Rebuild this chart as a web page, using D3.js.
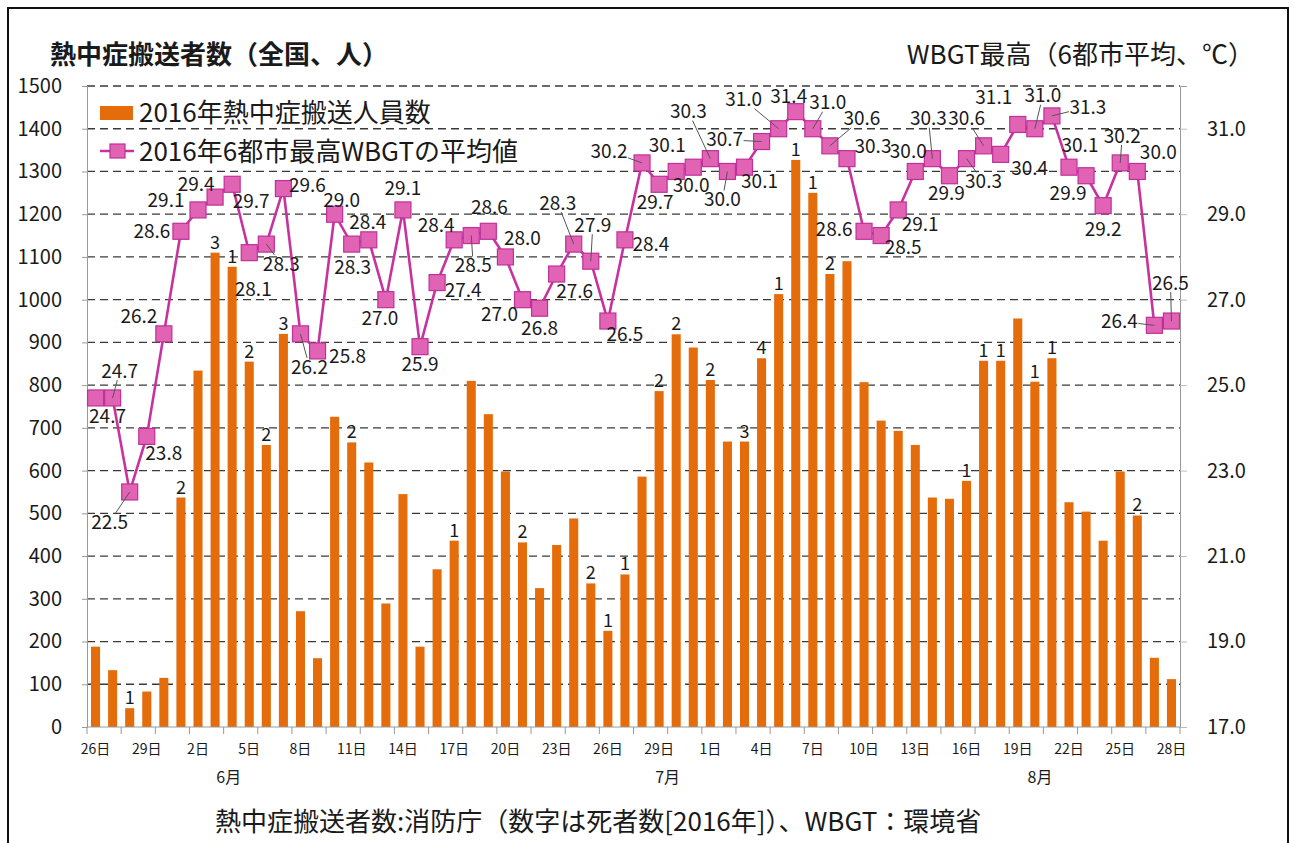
<!DOCTYPE html>
<html>
<head>
<meta charset="utf-8">
<script src="https://cdn.jsdelivr.net/npm/d3@7"></script>
<style>
body { margin: 0; background: #fff; }
text { font-family: "Noto Sans CJK JP", "Noto Sans", sans-serif; fill: #1a1a1a; }
</style>
</head>
<body>
<svg id="chart" width="1292" height="843"></svg>
<script>
// day of month for each category (6/26 .. 8/28)
const dayNums = [26,27,28,29,30,1,2,3,4,5,6,7,8,9,10,11,12,13,14,15,16,17,18,19,20,21,22,23,24,25,26,27,28,29,30,31,
  1,2,3,4,5,6,7,8,9,10,11,12,13,14,15,16,17,18,19,20,21,22,23,24,25,26,27,28];
const monthLabels = ["6月", "7月", "8月"];
const monthAt = [7.8, 33.5, 55.3]; // category position of the month label

// 熱中症搬送人員数 (bars)
const transported = [188,133,44,83,115,537,834,1110,1077,855,
  660,920,271,161,726,666,619,289,545,188,
  369,436,810,732,598,432,325,426,488,336,
  225,357,586,786,919,888,812,668,668,863,
  1013,1327,1250,1060,1090,807,717,693,660,537,
  534,576,857,857,956,808,863,526,504,436,
  598,495,162,112];

// 死者数 shown above bars
const deaths = [null,null,1,null,null,2,null,3,1,2,
  2,3,null,null,null,2,null,null,null,null,
  null,1,null,null,null,2,null,null,null,2,
  1,1,null,2,2,null,2,null,3,4,
  1,1,1,2,null,null,null,null,null,null,
  null,1,1,1,null,1,1,null,null,null,
  null,2,null,null];

// 6都市最高WBGTの平均値 (line)
const wbgt = [24.7,24.7,22.5,23.8,26.2,28.6,29.1,29.4,29.7,28.1,
  28.3,29.6,26.2,25.8,29.0,28.3,28.4,27.0,29.1,25.9,
  27.4,28.4,28.5,28.6,28.0,27.0,26.8,27.6,28.3,27.9,
  26.5,28.4,30.2,29.7,30.0,30.1,30.3,30.0,30.1,30.7,
  31.0,31.4,31.0,30.6,30.3,28.6,28.5,29.1,30.0,30.3,
  29.9,30.3,30.6,30.4,31.1,31.0,31.3,30.1,29.9,29.2,
  30.2,30.0,26.4,26.5];

const leftTicks = d3.range(0, 1501, 100);
const rightTicks = [17, 19, 21, 23, 25, 27, 29, 31];

// label offset from marker [dx, dy, leader line]
const labelPos = [[12,18,0],[7,-27,1],[-20,30,1],[17,17,0],[-25,-18,0],[-29,0,0],[-32,-10,0],[-19,-13,0],[19,17,0],[4,37,0],
  [15,20,1],[24,-3,0],[9,33,1],[30,5,0],[7,-14,0],[1,23,0],[-1,-17,0],[-6,19,0],[0,-22,0],[0,18,0],
  [26,8,0],[-18,-14,0],[2,30,1],[1,-24,0],[17,-19,0],[-23,15,0],[0,20,0],[18,17,0],[-16,-41,1],[2,-36,1],
  [17,13,0],[26,5,0],[-33,-12,1],[-4,18,0],[15,14,0],[-26,-22,0],[-22,-47,1],[-5,28,1],[15,14,0],[-37,-2,1],
  [-35,-29,1],[-7,-15,0],[15,-26,1],[32,-27,1],[26,-12,0],[-30,-2,0],[22,12,0],[22,14,0],[-7,-20,0],[-4,-40,1],
  [-3,18,0],[17,23,1],[-17,-27,1],[29,14,0],[-24,-27,0],[8,-33,1],[36,-9,1],[11,-22,0],[-18,18,0],[0,24,0],
  [2,-27,1],[21,-19,0],[-35,-4,1],[-1,-38,1]];

const barColor = "#E46C0A";
const lineColor = "#C8329E";
const markFill = "#E063B4";

const svg = d3.select("#chart");
const L = 87, R = 1180, T = 86, B = 727;

// frame
svg.append("rect").attr("x", 8).attr("y", 8).attr("width", 1280).attr("height", 850)
  .attr("fill", "none").attr("stroke", "#111").attr("stroke-width", 2);

const x = d3.scaleBand().domain(d3.range(dayNums.length)).range([L, R]).paddingInner(0.47).paddingOuter(0.235);
const step = (R - L) / dayNums.length;
const cx = i => L + step * (i + 0.5);
const y = d3.scaleLinear().domain([0, 1500]).range([B, T]);
const y2 = d3.scaleLinear().domain([17, 32]).range([B, T]);

// gridlines
svg.append("g").selectAll("line").data(leftTicks.filter(d => d > 0)).join("line")
  .attr("x1", L).attr("x2", R).attr("y1", d => y(d)).attr("y2", d => y(d))
  .attr("stroke", "#3a3a3a").attr("stroke-width", 1.3).attr("stroke-dasharray", "8,5");

// left axis
const gl = svg.append("g").attr("transform", `translate(${L},0)`)
  .call(d3.axisLeft(y).tickValues(leftTicks).tickFormat(d3.format("d")).tickSize(5).tickPadding(20));
gl.select(".domain").attr("stroke", "#999");
gl.selectAll(".tick line").attr("stroke", "#999");
gl.selectAll("text").style("font-size", "20px").attr("fill", "#1a1a1a");

// right axis
const gr = svg.append("g").attr("transform", `translate(${R},0)`)
  .call(d3.axisRight(y2).tickValues(rightTicks).tickFormat(d3.format(".1f")).tickSize(7).tickPadding(20));
gr.select(".domain").attr("stroke", "#999");
gr.selectAll(".tick line").attr("stroke", "#bbb");
gr.selectAll("text").style("font-size", "20px").attr("fill", "#1a1a1a");

// bars
svg.append("g").selectAll("rect").data(transported).join("rect")
  .attr("x", (d, i) => x(i)).attr("width", x.bandwidth())
  .attr("y", d => y(d)).attr("height", d => B - y(d))
  .attr("fill", barColor);

// deaths labels
svg.append("g").selectAll("text").data(deaths.map((d, i) => ({d, i})).filter(o => o.d !== null)).join("text")
  .attr("x", o => cx(o.i)).attr("y", o => y(transported[o.i]) - 4)
  .attr("text-anchor", "middle").style("font-size", "18px").text(o => o.d);

// x axis
svg.append("line").attr("x1", L).attr("x2", R).attr("y1", B).attr("y2", B).attr("stroke", "#999");
svg.append("g").selectAll("line").data(d3.range(0, dayNums.length + 1, 2)).join("line")
  .attr("x1", d => L + step * d).attr("x2", d => L + step * d).attr("y1", B).attr("y2", B + 7)
  .attr("stroke", "#999");
svg.append("g").selectAll("text").data(d3.range(0, dayNums.length, 3)).join("text")
  .attr("x", cx).attr("y", 754).attr("text-anchor", "middle")
  .style("font-size", "14px").text(i => dayNums[i] + "日");
svg.append("g").selectAll("text").data(monthLabels).join("text")
  .attr("x", (d, i) => cx(monthAt[i])).attr("y", 783).attr("text-anchor", "middle")
  .style("font-size", "16px").text(d => d);

// line
const line = d3.line().x((d, i) => cx(i)).y(d => y2(d));
svg.append("path").datum(wbgt).attr("d", line)
  .attr("fill", "none").attr("stroke", lineColor).attr("stroke-width", 2.6);
svg.append("g").selectAll("rect").data(wbgt).join("rect")
  .attr("x", (d, i) => cx(i) - 8).attr("y", d => y2(d) - 8)
  .attr("width", 16).attr("height", 16)
  .attr("fill", markFill).attr("stroke", "#C0309A").attr("stroke-width", 1.2);

// leader lines + value labels
const lg = svg.append("g");
wbgt.forEach((v, i) => {
  const [dx, dy, lead] = labelPos[i];
  const mx = cx(i), my = y2(v);
  const lx = mx + dx, ly = my + dy;
  if (lead) {
    const hw = 19, hh = 9;
    const s = Math.min(hw / Math.max(Math.abs(dx), 0.01), hh / Math.max(Math.abs(dy), 0.01));
    lg.append("line").attr("x1", lx - dx * s).attr("y1", ly - dy * s).attr("x2", mx).attr("y2", my)
      .attr("stroke", "#555").attr("stroke-width", 1);
  }
  lg.append("text").attr("x", lx).attr("y", ly).attr("dy", "0.35em")
    .attr("text-anchor", "middle").style("font-size", "19px").text(v.toFixed(1));
});

// titles
svg.append("text").attr("x", 50).attr("y", 64).style("font-size", "26px").style("font-weight", "bold")
  .text("熱中症搬送者数（全国、人）");
svg.append("text").attr("x", 1254).attr("y", 64).attr("text-anchor", "end").style("font-size", "26px")
  .text("WBGT最高（6都市平均、℃）");
svg.append("text").attr("x", 215).attr("y", 831).style("font-size", "26px")
  .text("熱中症搬送者数:消防庁（数字は死者数[2016年]）、WBGT：環境省");

// legend
const leg = svg.append("g");
leg.append("rect").attr("x", 100).attr("y", 106).attr("width", 33).attr("height", 14).attr("fill", barColor);
leg.append("text").attr("x", 139).attr("y", 122).style("font-size", "26px").text("2016年熱中症搬送人員数");
leg.append("line").attr("x1", 100).attr("x2", 134).attr("y1", 151).attr("y2", 151)
  .attr("stroke", lineColor).attr("stroke-width", 2.6);
leg.append("rect").attr("x", 110).attr("y", 144).attr("width", 15).attr("height", 14)
  .attr("fill", markFill).attr("stroke", "#C0309A").attr("stroke-width", 1.2);
leg.append("text").attr("x", 139).attr("y", 161).style("font-size", "26px").text("2016年6都市最高WBGTの平均値");
</script>
</body>
</html>
